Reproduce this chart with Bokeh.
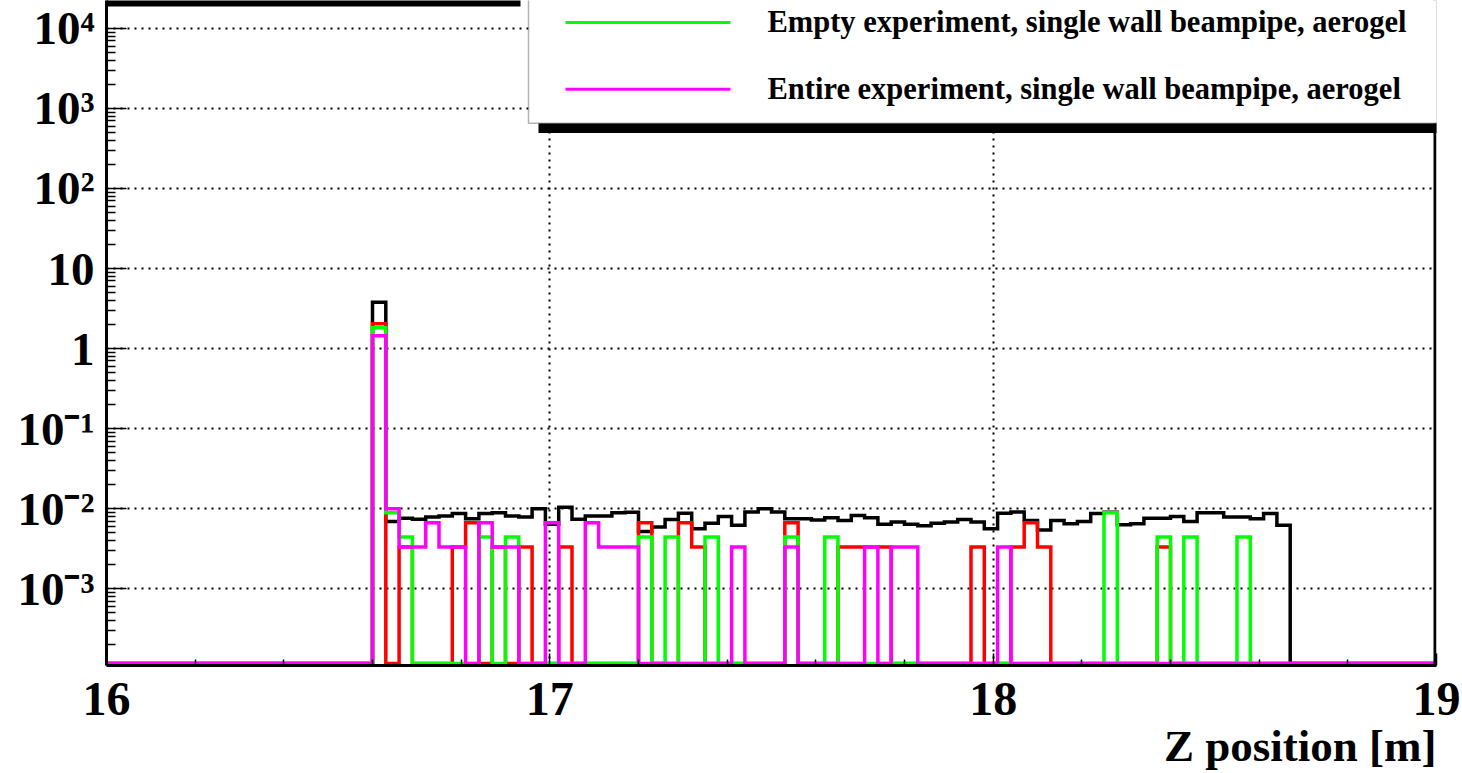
import numpy as np
from bokeh.plotting import figure
from bokeh.models import Range1d, FixedTicker, BoxAnnotation, Span, Label
from bokeh.embed import file_html
from bokeh.resources import INLINE

# ---------------- data ----------------
x_start, x_end = 16.0, 19.0
bin_width = 0.03
n_bins = 100
first_bin = 20          # index of first filled bin (16.60 m)

black_vals = [3.8, 0.0069, 0.0076, 0.0074, 0.0079, 0.0081, 0.0087, 0.0075, 0.0087, 0.0089,
              0.0081, 0.0079, 0.0100, 0.0064, 0.0104, 0.0074, 0.0081, 0.0081, 0.0089, 0.0090,
              0.0052, 0.0059, 0.0073, 0.0088, 0.0056, 0.0066, 0.0080, 0.0062, 0.0091, 0.0100,
              0.0091, 0.0075, 0.0075, 0.0072, 0.0077, 0.0071, 0.0082, 0.0077, 0.0064, 0.0068,
              0.0064, 0.0061, 0.0066, 0.0068, 0.0073, 0.0068, 0.0056, 0.0088, 0.0091, 0.0071,
              0.0054, 0.0071, 0.0065, 0.0069, 0.0087, 0.0090, 0.0063, 0.0065, 0.0076, 0.0076,
              0.0080, 0.0069, 0.0089, 0.0089, 0.0079, 0.0079, 0.0075, 0.0087, 0.0062]
red_vals = [2.05, 0, 0.00333, 0, 0, 0, 0.00333, 0.00667, 0, 0.00333,
            0, 0.00333, 0, 0, 0.00333, 0, 0, 0, 0, 0,
            0.00667, 0, 0, 0.00667, 0.00333, 0, 0, 0, 0, 0,
            0, 0.00667, 0, 0, 0, 0.00333, 0.00333, 0.00333, 0.00333, 0,
            0, 0, 0, 0, 0, 0.00333, 0, 0, 0.00333, 0.00667,
            0.00333, 0, 0, 0, 0, 0, 0, 0, 0, 0.00333,
            0, 0, 0, 0, 0, 0, 0, 0, 0]
green_vals = [1.82, 0.00889, 0.00444, 0, 0, 0, 0, 0, 0.00444, 0,
              0.00444, 0, 0, 0, 0, 0, 0, 0, 0, 0,
              0.00444, 0, 0.00444, 0, 0, 0.00444, 0, 0, 0, 0,
              0, 0.00444, 0, 0, 0.00444, 0, 0, 0, 0, 0,
              0, 0, 0, 0, 0, 0, 0, 0, 0, 0,
              0, 0, 0, 0, 0, 0.00889, 0, 0, 0, 0.00444,
              0, 0.00444, 0, 0, 0, 0.00444, 0, 0, 0]
magenta_vals = [1.45, 0.01, 0.00333, 0.00333, 0.00667, 0.00333, 0.00333, 0, 0.00667, 0.00333,
                0.00333, 0, 0, 0.00667, 0, 0, 0.00667, 0.00333, 0.00333, 0.00333,
                0, 0, 0, 0, 0, 0, 0, 0.00333, 0, 0,
                0, 0.00333, 0, 0, 0, 0, 0, 0.00333, 0, 0.00333,
                0.00333, 0, 0, 0, 0, 0, 0, 0.00333, 0, 0,
                0, 0, 0, 0, 0, 0, 0, 0, 0, 0,
                0, 0, 0, 0, 0, 0, 0, 0, 0]

series_colors = ["#000000", "#ff0000", "#00ff00", "#ff00ff"]
legend_labels = ["Empty experiment, single wall beampipe, aerogel",
                 "Entire experiment, single wall beampipe, aerogel"]
legend_colors = ["#00ff00", "#ff00ff"]
x_ticks = [16, 17, 18, 19]
y_exps = [-3, -2, -1, 0, 1, 2, 3, 4]
y_tick_labels = ["10\u207b\u00b3", "10\u207b\u00b2", "10\u207b\u00b9", "1", "10",
                 "10\u00b2", "10\u00b3", "10\u2074"]
x_title = "Z position [m]"

# ---------------- layout ----------------
W, H = 1462, 773
FL, FR, FT, FB = 106, 1436, 0, 667
DEC = 80.29                      # px per decade
Y3 = 590                         # pixel row of 1e-3
ytop_log = -3 + (Y3 - FT) / DEC
ybot_log = -3 - (FB - Y3) / DEC
floor_val = 10 ** (-3 - (FB - 2 - Y3) / DEC)   # zero bins drawn on the frame bottom


def xd(px):
    return x_start + (px - FL) * (x_end - x_start) / (FR - FL)


def yd(py):
    return 10 ** (ytop_log - (py - FT) * (ytop_log - ybot_log) / (FB - FT))


p = figure(width=W, height=H, x_range=Range1d(x_start, x_end),
           y_range=Range1d(10 ** ybot_log, 10 ** ytop_log), y_axis_type="log",
           output_backend="svg", toolbar_location=None,
           min_border_left=FL, min_border_right=W - FR,
           min_border_top=FT, min_border_bottom=H - FB)
p.outline_line_color = None
p.background_fill_color = "white"
p.border_fill_color = "white"

FONT = "Liberation Serif"

# grids
for g in (p.xgrid, p.ygrid):
    g.grid_line_color = "black"
    g.grid_line_dash = "2 5"
    g.grid_line_width = 2

# axes
p.xaxis.ticker = FixedTicker(ticks=x_ticks,
                             minor_ticks=[round(16 + 0.2 * i, 1) for i in range(16) if i % 5])
y_major = [10.0 ** e for e in y_exps]
p.yaxis.ticker = FixedTicker(ticks=y_major,
                             minor_ticks=[m * 10.0 ** e for e in range(-4, 5) for m in range(2, 10)])
p.yaxis.major_label_overrides = {v: t for v, t in zip(y_major, y_tick_labels)}
for ax in (p.xaxis, p.yaxis):
    ax.axis_line_width = 3
    ax.axis_line_color = "black"
    ax.major_tick_out = 0
    ax.minor_tick_out = 0
    ax.major_tick_line_width = 1.5
    ax.minor_tick_line_width = 1.5
    ax.major_label_text_font = FONT
    ax.major_label_text_font_style = "bold"
    ax.major_label_text_color = "black"
p.xaxis.major_tick_in = 12
p.xaxis.minor_tick_in = 6
p.yaxis.major_tick_in = 20
p.yaxis.minor_tick_in = 9
p.yaxis.major_label_text_font_size = "47px"
p.yaxis.major_label_standoff = 12
p.xaxis.major_label_text_font_size = "48px"
p.xaxis.major_label_standoff = 17

# x-axis title, right-aligned to the frame end: the centred axis label is
# padded on the left with no-break spaces (0.25 em each in this font)
TITLE_PX = 45
title_w = 6.056 * TITLE_PX                       # advance width of the title text
n_pad = int(round((2 * (FR - (FL + FR) / 2) - title_w) / (0.25 * TITLE_PX)))
xa = p.xaxis[0]
xa.axis_label = "\u00a0" * n_pad + x_title
xa.axis_label_text_font = FONT
xa.axis_label_text_font_style = "bold"
xa.axis_label_text_font_size = f"{TITLE_PX}px"
xa.axis_label_text_color = "black"
xa.axis_label_standoff = 3

# right frame edge
p.add_layout(Span(location=xd(FR - 1.5), dimension="height", line_color="black", line_width=3))

# histograms
edges = x_start + bin_width * np.arange(n_bins + 1)
for vals, col in zip([black_vals, red_vals, green_vals, magenta_vals], series_colors):
    full = np.zeros(n_bins)
    full[first_bin:first_bin + len(vals)] = vals
    full = np.where(full > 0, full, floor_val)
    xs = np.repeat(edges, 2)[1:-1]
    ys = np.repeat(full, 2)
    p.line(xs, ys, line_color=col, line_width=3.5, line_join="miter")

# shadow bar of the (cut-off) title box at the very top
p.add_layout(BoxAnnotation(left=xd(FL - 10), right=xd(520), top=yd(-10), bottom=yd(6),
                           fill_color="black", fill_alpha=1.0, line_color=None))

# legend box with shadow
p.add_layout(BoxAnnotation(left=xd(538), right=xd(W + 20), top=yd(123), bottom=yd(133),
                           fill_color="black", fill_alpha=1.0, line_color=None))
p.add_layout(BoxAnnotation(left=xd(528), right=xd(W + 20), top=yd(-30), bottom=yd(123),
                           fill_color="white", fill_alpha=1.0, line_color="black",
                           line_width=1.5))
for i, (lab, col) in enumerate(zip(legend_labels, legend_colors)):
    cy = 22 + 67 * i
    p.add_layout(BoxAnnotation(left=xd(565), right=xd(730), top=yd(cy - 1.5), bottom=yd(cy + 1.5),
                               fill_color=col, fill_alpha=1.0, line_color=None))
    p.add_layout(Label(x=xd(767), y=yd(cy), text=lab, text_align="left",
                       text_baseline="middle", text_font=FONT, text_font_style="bold",
                       text_font_size="30.5px", text_color="black"))

open("out.html", "w").write(file_html(p, INLINE))
